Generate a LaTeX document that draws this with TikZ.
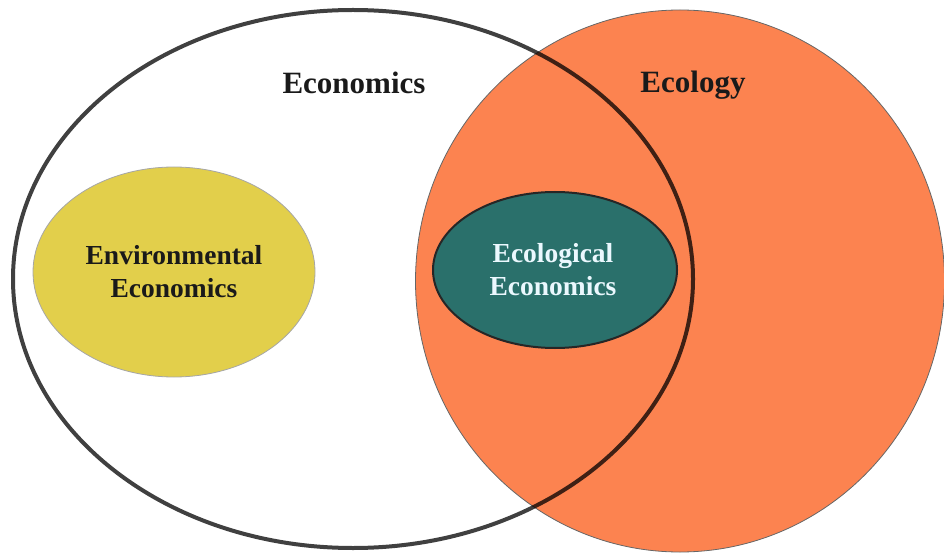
\documentclass[tikz,border=0pt]{standalone}
\usepackage{fontspec}
\setmainfont{Liberation Serif}
\usepackage{xcolor}
\usepackage{tikz}
\usetikzlibrary{shapes.geometric}
\definecolor{ecoorange}{HTML}{FC8350}
\definecolor{envyellow}{HTML}{E2CF4B}
\definecolor{ecoteal}{HTML}{2A706B}
\definecolor{rimgray}{HTML}{404040}
\definecolor{labeltext}{HTML}{1A1A1A}
\tikzset{
  Field/.style={
    ellipse, inner sep=0pt, draw
  },
  BigLabel/.style={
    font=\fontsize{31}{36}\selectfont\bfseries, text=labeltext
  },
  SubLabel/.style={
    font=\fontsize{27.5}{33}\selectfont\bfseries, align=center
  }
}

\begin{document}
\begin{tikzpicture}[x=1pt, y=-1pt, line cap=round, line join=round]
  \useasboundingbox (0,0) rectangle (944,553);
  % ecology disc
  \node[Field, fill=ecoorange, draw=gray!80!black, line width=0.8pt,
        minimum width=529pt, minimum height=542pt] (ecology) at (680,281) {};
  % economics ring, over the disc (darkens where it crosses)
  \begin{scope}[blend mode=multiply]
    \node[Field, draw=rimgray, line width=4pt,
          minimum width=680pt, minimum height=538pt] (economics) at (353,279) {};
  \end{scope}
  % the two sub-fields
  \node[Field, fill=envyellow, draw=gray!70, line width=0.8pt,
        minimum width=282pt, minimum height=210pt] (envecon) at (174,272) {};
  \node[Field, fill=ecoteal, draw=black!85, line width=2pt,
        minimum width=244pt, minimum height=156pt] (ecolecon) at (555,270) {};

  \node[BigLabel] (economicslbl) at (354,83) {Economics};
  \node[BigLabel] (ecologylbl) at (693,85) {Ecology};
  \node[SubLabel, text=labeltext] (envlbl) at (envecon) {Environmental\\Economics};
  \node[SubLabel, text=white!92!cyan] (ecollbl) at (553,270) {Ecological\\Economics};
\end{tikzpicture}
\end{document}
